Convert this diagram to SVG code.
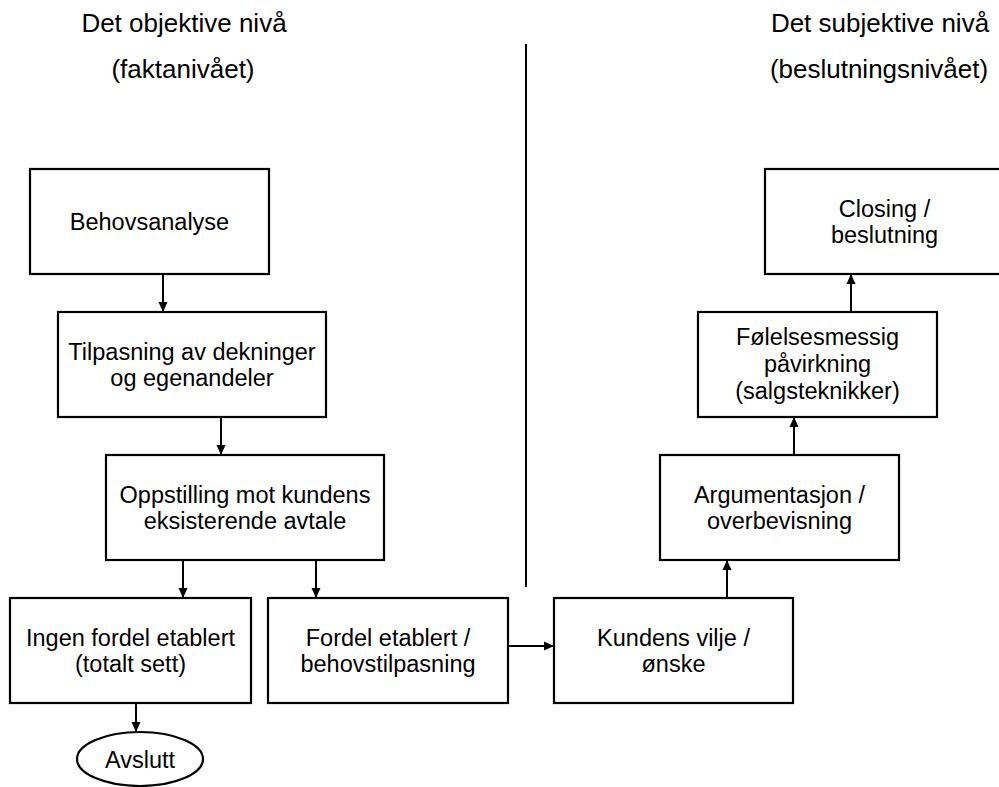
<svg xmlns="http://www.w3.org/2000/svg" width="999" height="787" viewBox="0 0 999 787">
<style>
  .box{fill:#fff;stroke:#000;stroke-width:2.2}
  .t{font-family:"Liberation Sans",Arial,sans-serif;font-size:23.5px;fill:#000;text-anchor:middle}
  .h{font-family:"Liberation Sans",Arial,sans-serif;font-size:26px;fill:#000;text-anchor:middle}
  .c{fill:none;stroke:#000;stroke-width:2}
</style>
<defs>
  <marker id="ah" markerUnits="userSpaceOnUse" markerWidth="10" markerHeight="10" viewBox="0 0 10 10" refX="10" refY="5" orient="auto">
    <path d="M0,0.5 L10,5 L0,9.5 Z" fill="#000"/>
  </marker>
</defs>
<rect width="999" height="787" fill="#fff"/>
<g id="titles">
  <text class="h" x="184" y="32">Det objektive nivå</text>
  <text class="h" x="183" y="78">(faktanivået)</text>
  <text class="h" x="880" y="32">Det subjektive nivå</text>
  <text class="h" x="879" y="78">(beslutningsnivået)</text>
</g>
<g id="divider"><line x1="526" y1="44" x2="526" y2="587" stroke="#000" stroke-width="2"/></g>
<g id="connectors">
  <line class="c" x1="163" y1="274" x2="163" y2="312" marker-end="url(#ah)"/>
  <line class="c" x1="221" y1="417" x2="221" y2="455" marker-end="url(#ah)"/>
  <line class="c" x1="183" y1="560" x2="183" y2="598" marker-end="url(#ah)"/>
  <line class="c" x1="316" y1="560" x2="316" y2="598" marker-end="url(#ah)"/>
  <line class="c" x1="136" y1="703" x2="136" y2="732" marker-end="url(#ah)"/>
  <line class="c" x1="508" y1="646" x2="554" y2="646" marker-end="url(#ah)"/>
  <line class="c" x1="727" y1="598" x2="727" y2="560" marker-end="url(#ah)"/>
  <line class="c" x1="794" y1="455" x2="794" y2="417" marker-end="url(#ah)"/>
  <line class="c" x1="851" y1="312" x2="851" y2="274" marker-end="url(#ah)"/>
</g>
<g id="behovsanalyse">
  <rect class="box" x="30" y="169" width="239" height="105"/>
  <text class="t" x="149.5" y="230">Behovsanalyse</text>
</g>
<g id="tilpasning">
  <rect class="box" x="58" y="312" width="268" height="105"/>
  <text class="t" x="192" y="360">Tilpasning av dekninger</text>
  <text class="t" x="192" y="386">og egenandeler</text>
</g>
<g id="oppstilling">
  <rect class="box" x="106" y="455" width="278" height="105"/>
  <text class="t" x="245" y="503">Oppstilling mot kundens</text>
  <text class="t" x="245" y="529">eksisterende avtale</text>
</g>
<g id="ingen">
  <rect class="box" x="10" y="598" width="241" height="105"/>
  <text class="t" x="130.5" y="646">Ingen fordel etablert</text>
  <text class="t" x="130.5" y="672">(totalt sett)</text>
</g>
<g id="fordel">
  <rect class="box" x="268" y="598" width="240" height="105"/>
  <text class="t" x="388" y="646">Fordel etablert /</text>
  <text class="t" x="388" y="672">behovstilpasning</text>
</g>
<g id="kundens">
  <rect class="box" x="554" y="598" width="239" height="105"/>
  <text class="t" x="673.5" y="646">Kundens vilje /</text>
  <text class="t" x="673.5" y="672">ønske</text>
</g>
<g id="argumentasjon">
  <rect class="box" x="660" y="455" width="239" height="105"/>
  <text class="t" x="779.5" y="503">Argumentasjon /</text>
  <text class="t" x="779.5" y="529">overbevisning</text>
</g>
<g id="folelsesmessig">
  <rect class="box" x="698" y="312" width="239" height="105"/>
  <text class="t" x="817.5" y="345">Følelsesmessig</text>
  <text class="t" x="817.5" y="372">påvirkning</text>
  <text class="t" x="817.5" y="399">(salgsteknikker)</text>
</g>
<g id="closing">
  <rect class="box" x="765" y="169" width="239" height="105"/>
  <text class="t" x="884.5" y="217">Closing /</text>
  <text class="t" x="884.5" y="243">beslutning</text>
</g>
<g id="avslutt">
  <ellipse class="box" cx="140" cy="759" rx="63" ry="27"/>
  <text class="t" x="140" y="768">Avslutt</text>
</g>
</svg>
